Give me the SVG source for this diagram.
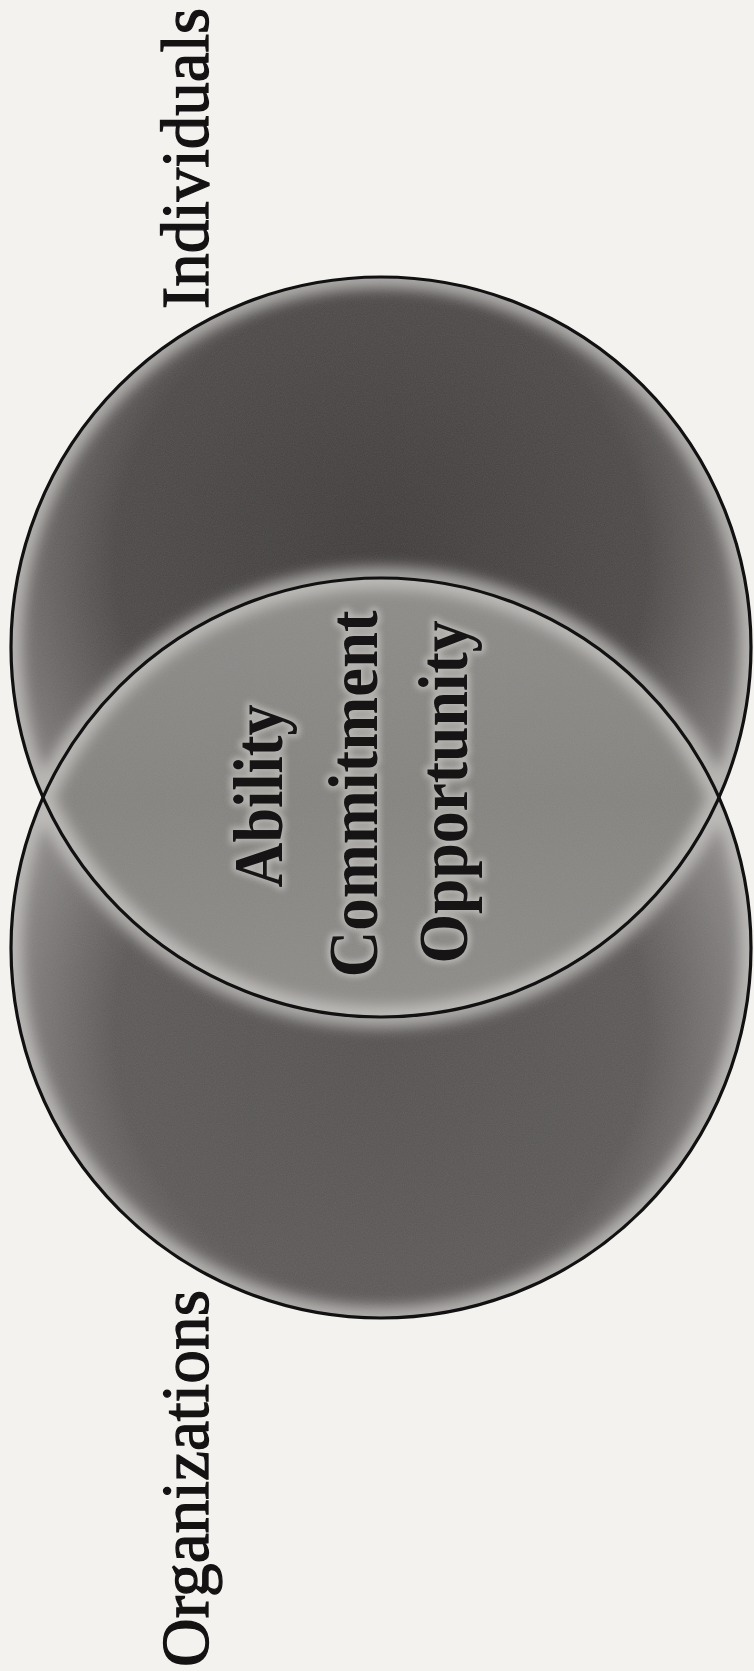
<svg xmlns="http://www.w3.org/2000/svg" width="754" height="1671" viewBox="0 0 754 1671">
<style>
.lbl{font-family:"Liberation Serif","DejaVu Serif",serif;font-size:68px;fill:#141212;stroke:#141212;stroke-width:1.3;}
.ctr{font-family:"Liberation Serif","DejaVu Serif",serif;font-size:70px;font-weight:bold;fill:#161414;}
.rim{fill:none;stroke:#111;stroke-width:3.2;}
</style>
<defs>
<radialGradient id="gUp" cx="381" cy="560" r="380" gradientUnits="userSpaceOnUse">
<stop offset="0" stop-color="#3f3c3b"/>
<stop offset="0.7" stop-color="#4c4948"/>
<stop offset="1" stop-color="#7a7775"/>
</radialGradient>
<radialGradient id="gLo" cx="381" cy="1030" r="380" gradientUnits="userSpaceOnUse">
<stop offset="0" stop-color="#545150"/>
<stop offset="0.7" stop-color="#5c5958"/>
<stop offset="1" stop-color="#8a8786"/>
</radialGradient>
<linearGradient id="gLens" x1="0" y1="578" x2="0" y2="1017" gradientUnits="userSpaceOnUse">
<stop offset="0" stop-color="#8e8c89"/>
<stop offset="0.5" stop-color="#85837f"/>
<stop offset="1" stop-color="#8e8c89"/>
</linearGradient>
<clipPath id="cUnion">
<circle cx="381" cy="647" r="370"/>
<circle cx="381" cy="948" r="370"/>
</clipPath>
<filter id="blur" x="-10%" y="-10%" width="120%" height="120%">
<feGaussianBlur stdDeviation="7"/>
</filter>
<filter id="halo" x="-10%" y="-10%" width="120%" height="120%">
<feGaussianBlur stdDeviation="3"/>
</filter>
<filter id="grain" x="0" y="0" width="100%" height="100%">
<feTurbulence type="fractalNoise" baseFrequency="0.9" numOctaves="2" seed="3" result="n"/>
<feColorMatrix in="n" type="matrix" values="0 0 0 0 0.5  0 0 0 0 0.5  0 0 0 0 0.5  0 0 0 0.55 0"/>
</filter>
</defs>
<rect x="0" y="0" width="754" height="1671" fill="#f3f2ef"/>
<g id="organizations">
<circle cx="381" cy="948" r="370" fill="url(#gLo)"/>
</g>
<g id="individuals">
<circle cx="381" cy="647" r="370" fill="url(#gUp)"/>
</g>
<g id="overlap">
<path d="M43 797.5 A370 370 0 0 1 719 797.5 A370 370 0 0 1 43 797.5 Z" fill="url(#gLens)"/>
</g>
<g id="glow" clip-path="url(#cUnion)" opacity="0.75">
<g filter="url(#blur)" fill="none" stroke="#cfcdca" stroke-width="22">
<circle cx="381" cy="647" r="370"/>
<circle cx="381" cy="948" r="370"/>
</g>
<rect x="0" y="270" width="754" height="1060" filter="url(#grain)" opacity="0.35"/>
</g>
<g id="connectors">
<circle class="rim" cx="381" cy="647" r="370"/>
<circle class="rim" cx="381" cy="948" r="370"/>
</g>
<g id="labels">
<text class="lbl" transform="translate(208,309) rotate(-90)" textLength="301" lengthAdjust="spacingAndGlyphs">Individuals</text>
<text class="lbl" transform="translate(208,1667) rotate(-90)" textLength="377" lengthAdjust="spacingAndGlyphs">Organizations</text>
</g>
<g id="center-text">
<g filter="url(#halo)" opacity="0.6" fill="#d8d6d3" stroke="#d8d6d3" stroke-width="6" font-family="Liberation Serif, DejaVu Serif, serif" font-size="70" font-weight="bold" text-anchor="middle">
<text transform="translate(282,796) rotate(-90)" textLength="183" lengthAdjust="spacingAndGlyphs">Ability</text>
<text transform="translate(377,794) rotate(-90)" textLength="367" lengthAdjust="spacingAndGlyphs">Commitment</text>
<text transform="translate(467,792) rotate(-90)" textLength="343" lengthAdjust="spacingAndGlyphs">Opportunity</text>
</g>
<text class="ctr" text-anchor="middle" transform="translate(282,796) rotate(-90)" textLength="183" lengthAdjust="spacingAndGlyphs">Ability</text>
<text class="ctr" text-anchor="middle" transform="translate(377,794) rotate(-90)" textLength="367" lengthAdjust="spacingAndGlyphs">Commitment</text>
<text class="ctr" text-anchor="middle" transform="translate(467,792) rotate(-90)" textLength="343" lengthAdjust="spacingAndGlyphs">Opportunity</text>
</g>
</svg>
